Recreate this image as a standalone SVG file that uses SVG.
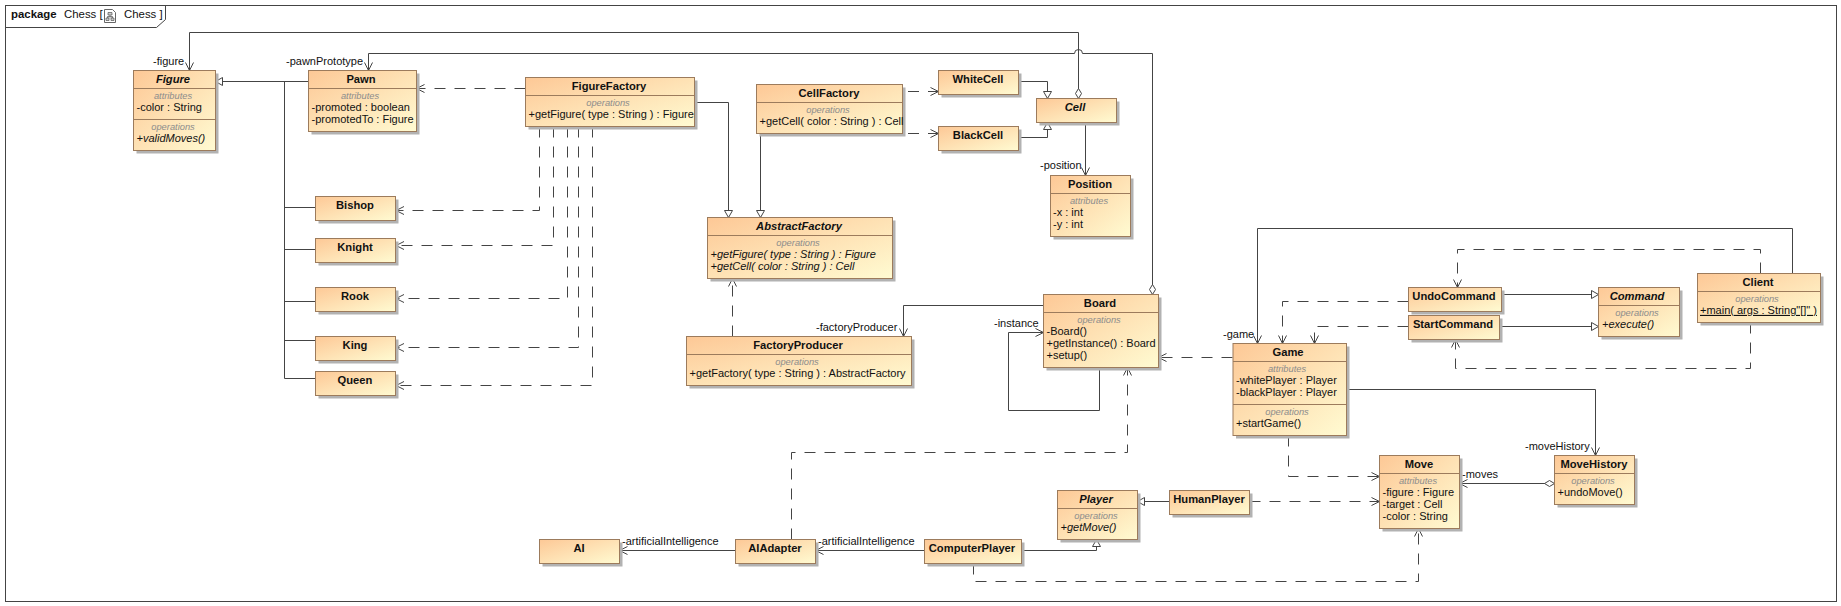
<svg xmlns="http://www.w3.org/2000/svg" width="1841" height="606" viewBox="0 0 1841 606">
<style>
text{font-family:"Liberation Sans",Arial,sans-serif;font-size:11px;fill:#111}
.b{fill:url(#g);stroke:#9c7b5c;stroke-width:1}
.sh{fill:#b2b2b2}
.d{stroke:#9c7b5c;stroke-width:1;fill:none}
.n{font-weight:bold;font-size:11.2px;text-anchor:middle}
.a{font-style:italic}
.c{font-style:italic;font-size:9.3px;fill:#8c8c8c;text-anchor:middle}
.u{text-decoration:underline}
.l{fill:none;stroke:#444;stroke-width:1}
.h{stroke-dasharray:11 9}
.open{marker-end:url(#open)}
.tri{marker-end:url(#tri)}
.dia{marker-start:url(#dia)}
</style>
<defs>
<linearGradient id="g" x1="0" y1="0" x2="1" y2="1"><stop offset="0" stop-color="#fdc896"/><stop offset="1" stop-color="#fffbd2"/></linearGradient>
<marker id="open" markerUnits="userSpaceOnUse" markerWidth="12" markerHeight="12" refX="9" refY="5" orient="auto" overflow="visible"><path d="M1 1 L9 5 L1 9" fill="none" stroke="#444" stroke-width="1"/></marker>
<marker id="tri" markerUnits="userSpaceOnUse" markerWidth="12" markerHeight="12" refX="8" refY="5" orient="auto" overflow="visible"><path d="M1 1 L8 5 L1 9 Z" fill="#fff" stroke="#444" stroke-width="1"/></marker>
<marker id="dia" markerUnits="userSpaceOnUse" markerWidth="14" markerHeight="10" refX="0" refY="4" orient="auto" overflow="visible"><path d="M0 4 L5 1 L10 4 L5 7 Z" fill="#fff" stroke="#444" stroke-width="1"/></marker>
</defs>
<g id="frame">
<rect x="5.5" y="5.5" width="1831" height="596" fill="#fff" stroke="#444" stroke-width="1"/>
<path d="M5.5 27.5 H156.5 L165.5 19.5 V5.5" fill="none" stroke="#444" stroke-width="1"/>
<text x="11" y="17.5" font-weight="bold" style="font-size:11.4px">package</text>
<text x="64" y="17.5" style="font-size:11.4px">Chess [</text>
<path d="M104.5 9.5 H112.5 L115.5 12.5 V22.5 H104.5 Z" fill="#fff" stroke="#666"/>
<path d="M108 12.5 H112 V15 H108 Z M106 18 H109 V20.5 H106 Z M111 18 H114 V20.5 H111 Z M110 15 V16.5 M107.5 18 V16.5 H112.5 V18" fill="#ccc" stroke="#555" stroke-width=".7"/>
<text x="124" y="17.5" style="font-size:11.4px">Chess ]</text>
</g>
<g id="connectors">
<path class="l open dia" d="M1078.5 98.5 V32.5 H189.5 V70.5"/>
<path class="l open dia" d="M1152.5 294.5 V53.5 H1082.5 A4 4 0 0 0 1074.5 53.5 H368.5 V70.5"/>
<path class="l tri" d="M308.5 81.5 H215.5"/>
<path class="l" d="M284.5 81.5 V378.5 H315.5 M284.5 207.5 H315.5 M284.5 249.5 H315.5 M284.5 301.5 H315.5 M284.5 340.5 H315.5"/>
<path class="l h open" d="M525.5 88.5 H416.5"/>
<path class="l h open" d="M539.5 126.5 V210.5 H396"/>
<path class="l h open" d="M553.5 126.5 V245.5 H396"/>
<path class="l h open" d="M567.5 126.5 V298.5 H396"/>
<path class="l h open" d="M578.5 126.5 V347.5 H396"/>
<path class="l h open" d="M592.5 126.5 V385.5 H396"/>
<path class="l tri" d="M694.5 102.5 H728.5 V217.5"/>
<path class="l tri" d="M760.5 133.5 V217.5"/>
<path class="l h open" d="M732.5 336.5 V278.5"/>
<path class="l h open" d="M908 91.5 H938.5"/>
<path class="l h open" d="M908 133.5 H938.5"/>
<path class="l tri" d="M1018.5 81.5 H1047.5 V98.5"/>
<path class="l tri" d="M1018.5 137.5 H1047.5 V122.5"/>
<path class="l open" d="M1085.5 122.5 V175.5"/>
<path class="l open" d="M1043.5 305.5 H903.5 V336.5"/>
<path class="l open" d="M1099.5 367.5 V410.5 H1008.5 V332.5 H1043.5"/>
<path class="l h open" d="M791.5 539.5 V452.5 H1127.5 V367.5"/>
<path class="l h open" d="M1232.5 357.5 H1158.5"/>
<path class="l open" d="M1792.5 273.5 V228.5 H1257.5 V343.5"/>
<path class="l h open" d="M1760.5 273.5 V249.5 H1457.5 V287.5"/>
<path class="l h open" d="M1750.5 322.5 V368.5 H1455.5 V339.5"/>
<path class="l h open" d="M1408.5 301.5 H1282.5 V343.5"/>
<path class="l h open" d="M1408.5 326.5 H1314.5 V343.5"/>
<path class="l tri" d="M1501.5 294.5 H1598.5"/>
<path class="l tri" d="M1499.5 326.5 H1598.5"/>
<path class="l open" d="M1346.5 389.5 H1595.5 V455.5"/>
<path class="l h open" d="M1288.5 435.5 V476.5 H1379.5"/>
<path class="l h open" d="M1249.5 501.5 H1379.5"/>
<path class="l tri" d="M1169.5 501.5 H1137.5"/>
<path class="l tri" d="M1021.5 550.5 H1096.5 V539.5"/>
<path class="l h open" d="M973.5 563.5 V581.5 H1418.5 V528.5"/>
<path class="l open dia" d="M1554.5 483.5 H1459.5"/>
<path class="l open" d="M924.5 550.5 H815.5"/>
<path class="l open" d="M735.5 550.5 H619.5"/>
</g>
<g id="roles">
<text x="153" y="64.7">-figure</text>
<text x="286" y="64.7">-pawnPrototype</text>
<text x="1040" y="169.3">-position</text>
<text x="816" y="331">-factoryProducer</text>
<text x="994" y="326.7">-instance</text>
<text x="1223" y="338">-game</text>
<text x="1525" y="450">-moveHistory</text>
<text x="1462" y="477.7">-moves</text>
<text x="622" y="545">-artificialIntelligence</text>
<text x="818" y="545">-artificialIntelligence</text>
</g>
<g id="Figure"><rect class="sh" x="136.5" y="73.5" width="82" height="80"/><rect class="b" x="133.5" y="70.5" width="82" height="80"/><path class="d" d="M133.5 88.5 H215.5 M133.5 119.5 H215.5"/>
<text class="n a" x="173" y="83">Figure</text><text class="c" x="173" y="98.7">attributes</text><text x="136.5" y="110.9">-color : String</text><text class="c" x="173" y="129.7">operations</text><text class="a" x="136.5" y="141.9">+validMoves()</text></g>
<g id="Pawn"><rect class="sh" x="311.5" y="73.5" width="108" height="61"/><rect class="b" x="308.5" y="70.5" width="108" height="61"/><path class="d" d="M308.5 88.5 H416.5"/>
<text class="n" x="361" y="83">Pawn</text><text class="c" x="360" y="98.7">attributes</text><text x="311.5" y="110.9">-promoted : boolean</text><text x="311.5" y="122.9">-promotedTo : Figure</text></g>
<g id="FigureFactory"><rect class="sh" x="528.5" y="80.5" width="169" height="49"/><rect class="b" x="525.5" y="77.5" width="169" height="49"/><path class="d" d="M525.5 95.5 H694.5"/>
<text class="n" x="609" y="90">FigureFactory</text><text class="c" x="608" y="105.7">operations</text><text x="528.5" y="117.9">+getFigure( type : String ) : Figure</text></g>
<g id="CellFactory"><rect class="sh" x="759.5" y="87.5" width="146" height="49"/><rect class="b" x="756.5" y="84.5" width="146" height="49"/><path class="d" d="M756.5 102.5 H902.5"/>
<text class="n" x="829" y="97">CellFactory</text><text class="c" x="828" y="112.7">operations</text><text x="759.5" y="124.9">+getCell( color : String ) : Cell</text></g>
<g id="WhiteCell"><rect class="sh" x="941.5" y="73.5" width="80" height="24"/><rect class="b" x="938.5" y="70.5" width="80" height="24"/><text class="n" x="978" y="83">WhiteCell</text></g>
<g id="BlackCell"><rect class="sh" x="941.5" y="129.5" width="80" height="24"/><rect class="b" x="938.5" y="126.5" width="80" height="24"/><text class="n" x="978" y="139">BlackCell</text></g>
<g id="Cell"><rect class="sh" x="1039.5" y="101.5" width="80" height="24"/><rect class="b" x="1036.5" y="98.5" width="80" height="24"/><text class="n a" x="1075" y="111">Cell</text></g>
<g id="Position"><rect class="sh" x="1053.5" y="178.5" width="80" height="61"/><rect class="b" x="1050.5" y="175.5" width="80" height="61"/><path class="d" d="M1050.5 193.5 H1130.5"/>
<text class="n" x="1090" y="188">Position</text><text class="c" x="1089" y="203.7">attributes</text><text x="1053" y="215.9">-x : int</text><text x="1053" y="227.9">-y : int</text></g>
<g id="Bishop"><rect class="sh" x="318.5" y="199.5" width="80" height="24"/><rect class="b" x="315.5" y="196.5" width="80" height="24"/><text class="n" x="355" y="209">Bishop</text></g>
<g id="Knight"><rect class="sh" x="318.5" y="241.5" width="80" height="24"/><rect class="b" x="315.5" y="238.5" width="80" height="24"/><text class="n" x="355" y="251">Knight</text></g>
<g id="Rook"><rect class="sh" x="318.5" y="290.5" width="80" height="24"/><rect class="b" x="315.5" y="287.5" width="80" height="24"/><text class="n" x="355" y="300">Rook</text></g>
<g id="King"><rect class="sh" x="318.5" y="339.5" width="80" height="24"/><rect class="b" x="315.5" y="336.5" width="80" height="24"/><text class="n" x="355" y="349">King</text></g>
<g id="Queen"><rect class="sh" x="318.5" y="374.5" width="80" height="24"/><rect class="b" x="315.5" y="371.5" width="80" height="24"/><text class="n" x="355" y="384">Queen</text></g>
<g id="AbstractFactory"><rect class="sh" x="710.5" y="220.5" width="185" height="61"/><rect class="b" x="707.5" y="217.5" width="185" height="61"/><path class="d" d="M707.5 235.5 H892.5"/>
<text class="n a" x="799" y="230">AbstractFactory</text><text class="c" x="798" y="245.7">operations</text><text class="a" x="710.5" y="257.9">+getFigure( type  : String  ) : Figure</text><text class="a" x="710.5" y="269.9">+getCell( color  : String  ) : Cell</text></g>
<g id="FactoryProducer"><rect class="sh" x="689.5" y="339.5" width="225" height="49"/><rect class="b" x="686.5" y="336.5" width="225" height="49"/><path class="d" d="M686.5 354.5 H911.5"/>
<text class="n" x="798" y="349">FactoryProducer</text><text class="c" x="797" y="364.7">operations</text><text x="689.5" y="376.9">+getFactory( type : String ) : AbstractFactory</text></g>
<g id="Board"><rect class="sh" x="1046.5" y="297.5" width="115" height="73"/><rect class="b" x="1043.5" y="294.5" width="115" height="73"/><path class="d" d="M1043.5 312.5 H1158.5"/>
<text class="n" x="1100" y="307">Board</text><text class="c" x="1099" y="322.7">operations</text><text x="1046.5" y="334.9">-Board()</text><text x="1046.5" y="346.9">+getInstance() : Board</text><text x="1046.5" y="358.9">+setup()</text></g>
<g id="Player"><rect class="sh" x="1060.5" y="493.5" width="80" height="49"/><rect class="b" x="1057.5" y="490.5" width="80" height="49"/><path class="d" d="M1057.5 508.5 H1137.5"/>
<text class="n a" x="1096" y="503">Player</text><text class="c" x="1096" y="518.7">operations</text><text class="a" x="1060.5" y="530.9">+getMove()</text></g>
<g id="HumanPlayer"><rect class="sh" x="1172.5" y="493.5" width="80" height="24"/><rect class="b" x="1169.5" y="490.5" width="80" height="24"/><text class="n" x="1209" y="503">HumanPlayer</text></g>
<g id="AI"><rect class="sh" x="542.5" y="542.5" width="80" height="24"/><rect class="b" x="539.5" y="539.5" width="80" height="24"/><text class="n" x="579" y="552">AI</text></g>
<g id="AIAdapter"><rect class="sh" x="738.5" y="542.5" width="80" height="24"/><rect class="b" x="735.5" y="539.5" width="80" height="24"/><text class="n" x="775" y="552">AIAdapter</text></g>
<g id="ComputerPlayer"><rect class="sh" x="927.5" y="542.5" width="97" height="24"/><rect class="b" x="924.5" y="539.5" width="97" height="24"/><text class="n" x="972" y="552">ComputerPlayer</text></g>
<g id="Game"><rect class="sh" x="1236" y="346.5" width="113.5" height="92"/><rect class="b" x="1233" y="343.5" width="113.5" height="92"/><path class="d" d="M1233 361.5 H1346.5 M1233 404.5 H1346.5"/>
<text class="n" x="1288" y="356">Game</text><text class="c" x="1287" y="371.7">attributes</text><text x="1236" y="383.9">-whitePlayer : Player</text><text x="1236" y="395.9">-blackPlayer : Player</text><text class="c" x="1287" y="414.7">operations</text><text x="1236" y="426.9">+startGame()</text></g>
<g id="UndoCommand"><rect class="sh" x="1411.5" y="290.5" width="93" height="24"/><rect class="b" x="1408.5" y="287.5" width="93" height="24"/><text class="n" x="1454" y="300">UndoCommand</text></g>
<g id="StartCommand"><rect class="sh" x="1411.5" y="318.5" width="91" height="24"/><rect class="b" x="1408.5" y="315.5" width="91" height="24"/><text class="n" x="1453" y="328">StartCommand</text></g>
<g id="Command"><rect class="sh" x="1601.5" y="290.5" width="81" height="49"/><rect class="b" x="1598.5" y="287.5" width="81" height="49"/><path class="d" d="M1598.5 305.5 H1679.5"/>
<text class="n a" x="1637" y="300">Command</text><text class="c" x="1637" y="315.7">operations</text><text class="a" x="1602" y="327.9">+execute()</text></g>
<g id="Client"><rect class="sh" x="1700.5" y="276.5" width="123" height="49"/><rect class="b" x="1697.5" y="273.5" width="123" height="49"/><path class="d" d="M1697.5 291.5 H1820.5"/>
<text class="n" x="1758" y="286">Client</text><text class="c" x="1757" y="301.7">operations</text><text class="u" x="1700" y="313.9">+main( args : String"[]" )</text></g>
<g id="Move"><rect class="sh" x="1382.5" y="458.5" width="80" height="73"/><rect class="b" x="1379.5" y="455.5" width="80" height="73"/><path class="d" d="M1379.5 473.5 H1459.5"/>
<text class="n" x="1419" y="468">Move</text><text class="c" x="1418" y="483.7">attributes</text><text x="1382.5" y="495.9">-figure : Figure</text><text x="1382.5" y="507.9">-target : Cell</text><text x="1382.5" y="519.9">-color : String</text></g>
<g id="MoveHistory"><rect class="sh" x="1557.5" y="458.5" width="80" height="49"/><rect class="b" x="1554.5" y="455.5" width="80" height="49"/><path class="d" d="M1554.5 473.5 H1634.5"/>
<text class="n" x="1594" y="468">MoveHistory</text><text class="c" x="1593" y="483.7">operations</text><text x="1557.5" y="495.9">+undoMove()</text></g>
</svg>
